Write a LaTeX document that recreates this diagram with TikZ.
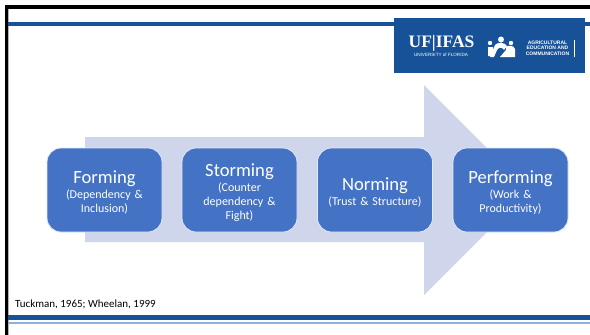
\documentclass[tikz,border=0pt]{standalone}
\usepackage{fontspec}
\setmainfont{Carlito}
\newfontfamily\logoserif{Liberation Serif}
\newfontfamily\logosans{Liberation Sans}
\definecolor{ufblue}{HTML}{175299}
\definecolor{lightband}{HTML}{8FB0DC}
\definecolor{arrowfill}{HTML}{CFD5EA}
\definecolor{boxfill}{HTML}{4472C4}
\tikzset{
  stagebox/.style={draw=white!85!boxfill,line width=0.8pt,fill=boxfill,rounded corners=14pt,
    minimum width=115pt,minimum height=84pt,inner sep=0pt,outer sep=0pt,text=white,
    align=center,text width=110pt,font=\fontsize{12}{14}\selectfont},
}
\newcommand{\stagetitle}[1]{\rule{0pt}{17.5pt}{\fontsize{18.6}{14}\selectfont #1}\\[1pt]}
\begin{document}
\begin{tikzpicture}[x=1pt,y=-1pt]
\useasboundingbox (0,0) rectangle (590,335);
\fill[white] (0,0) rectangle (590,335);
% frame
\fill[black] (5,5) rectangle (590,8.5);
\fill[black] (5,5) rectangle (8,335);
\fill[gray!60] (8,8.5) rectangle (8.8,335);
% bands
\fill[ufblue] (8,21.5) rectangle (590,26);
\fill[ufblue] (8,314.5) rectangle (590,319.5);
\fill[lightband] (8,322) rectangle (590,324);
% arrow
\fill[arrowfill] (85,137) -- (424,137) -- (424,85) -- (529,190) -- (424,295) -- (424,242) -- (85,242) -- cycle;
% logo
\fill[ufblue] (394,18) rectangle (585,73);
\node[text=white,font=\logoserif\bfseries\fontsize{17.5}{18}\selectfont,inner sep=0pt] (uf) at (441.5,43) {UF|IFAS};
\node[text=white,font=\logosans\fontsize{4.6}{5}\selectfont,inner sep=0pt] (ufsub) at (441,55) {UNIVERSITY of FLORIDA};
\fill[white] (490,43) circle (2.2) (501,39.5) circle (3) (511,43) circle (2.2);
\fill[white] (488,47) rectangle (493,56) (506,47) .. controls (508,45) and (514,45) .. (515,49) -- (515,57) -- (500,57) -- (506,50) -- cycle;
\fill[white] (495,45) .. controls (497,42) and (505,42) .. (507,46) -- (504,50) .. controls (502,47) and (499,47) .. (497,50) -- (494,57) -- (490,57) -- cycle;
\node[text=white,font=\logosans\bfseries\fontsize{5}{5.4}\selectfont,align=center,inner sep=0pt] (dept) at (547.5,48) {AGRICULTURAL\\EDUCATION AND\\COMMUNICATION};
\fill[white] (574,40) rectangle (574.6,57);
% stages
\node[stagebox] (forming) at (104.5,190) {\stagetitle{Forming}(Dependency \&\\Inclusion)};
\node[stagebox] (storming) at (239.5,190) {\stagetitle{Storming}(Counter\\dependency \&\\Fight)};
\node[stagebox] (norming) at (375,190) {\stagetitle{Norming}(Trust \& Structure)};
\node[stagebox] (performing) at (510.5,190) {\stagetitle{Performing}(Work \&\\Productivity)};
% citation
\node[anchor=west,inner sep=0pt,font=\fontsize{11}{12}\selectfont] (cite) at (15,304.5) {Tuckman, 1965; Wheelan, 1999};
\end{tikzpicture}
\end{document}
